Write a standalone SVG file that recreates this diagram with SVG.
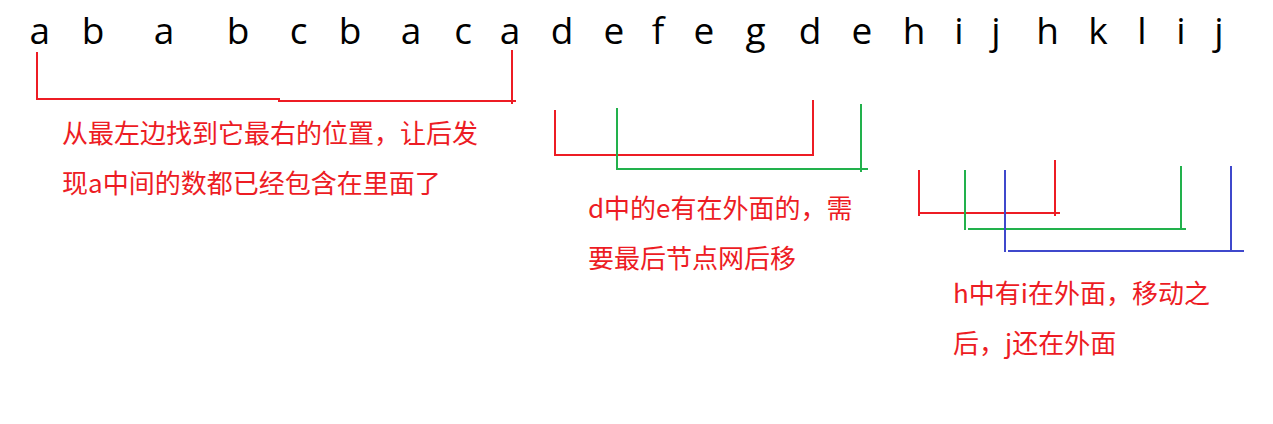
<svg xmlns="http://www.w3.org/2000/svg" width="1273" height="424" viewBox="0 0 1273 424">
<style>
.seq{font-family:"Open Sans","Noto Sans",sans-serif;font-size:37px;fill:#000;text-anchor:middle}
.note{font-family:"Noto Sans CJK SC","Noto Sans",sans-serif;font-size:26px;fill:#ED1C24}
.r{stroke:#ED1C24;stroke-width:2;fill:none}
.g{stroke:#22B14C;stroke-width:2;fill:none}
.b{stroke:#3F48CC;stroke-width:2;fill:none}
</style>
<rect width="1273" height="424" fill="#fff"/>
<g id="sequence">
<text class="seq" x="39.8" y="44">a</text>
<text class="seq" x="93" y="44">b</text>
<text class="seq" x="164" y="44">a</text>
<text class="seq" x="238" y="44">b</text>
<text class="seq" x="298.5" y="44">c</text>
<text class="seq" x="350" y="44">b</text>
<text class="seq" x="411" y="44">a</text>
<text class="seq" x="463" y="44">c</text>
<text class="seq" x="510" y="44">a</text>
<text class="seq" x="562" y="44">d</text>
<text class="seq" x="614" y="44">e</text>
<text class="seq" x="658" y="44">f</text>
<text class="seq" x="704" y="44">e</text>
<text class="seq" x="755.5" y="44">g</text>
<text class="seq" x="810" y="44">d</text>
<text class="seq" x="862" y="44">e</text>
<text class="seq" x="914" y="44">h</text>
<text class="seq" x="959" y="44">i</text>
<text class="seq" x="996" y="44">j</text>
<text class="seq" x="1047.5" y="44">h</text>
<text class="seq" x="1098" y="44">k</text>
<text class="seq" x="1142" y="44">l</text>
<text class="seq" x="1181" y="44">i</text>
<text class="seq" x="1219" y="44">j</text>
</g>
<g id="connectors">
<path class="r" d="M37 52V99H279V101H516"/>
<path class="r" d="M512 50V104"/>
<path class="r" d="M555 110V155H813V100"/>
<path class="g" d="M617 108V169H868"/>
<path class="g" d="M861 104V172"/>
<path class="r" d="M919 170V216"/>
<path class="r" d="M919 213H1060"/>
<path class="r" d="M1055 160V216"/>
<path class="g" d="M965 170V230"/>
<path class="g" d="M968 229H1186"/>
<path class="g" d="M1181 166V229"/>
<path class="b" d="M1005 170V252"/>
<path class="b" d="M1008 251H1244"/>
<path class="b" d="M1231 166V251"/>
</g>
<g id="note1">
<text class="note" x="62" y="143">从最左边找到它最右的位置，让后发</text>
<text class="note" x="62" y="193">现a中间的数都已经包含在里面了</text>
</g>
<g id="note2">
<text class="note" x="588" y="218">d中的e有在外面的，需</text>
<text class="note" x="588" y="268">要最后节点网后移</text>
</g>
<g id="note3">
<text class="note" x="953" y="303">h中有i在外面，移动之</text>
<text class="note" x="953" y="353">后，j还在外面</text>
</g>
</svg>
